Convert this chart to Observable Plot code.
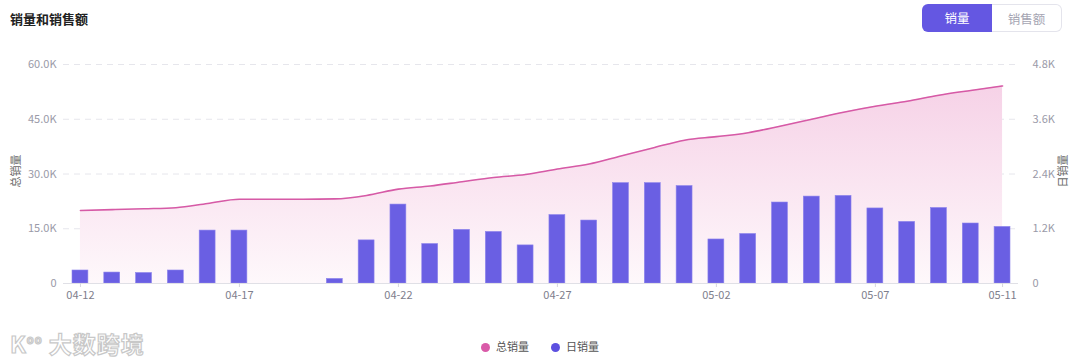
<!DOCTYPE html>
<html><head><meta charset="utf-8">
<script src="https://cdn.jsdelivr.net/npm/d3@7"></script>
<script src="https://cdn.jsdelivr.net/npm/@observablehq/plot@0.6"></script>
<style>
html,body{margin:0;padding:0;background:#fff;font-family:"Noto Sans CJK SC","Noto Sans",sans-serif;}
#wrap{position:relative;width:1080px;height:363px;overflow:hidden;}
#title{position:absolute;left:10px;top:9px;font-size:13px;font-weight:bold;color:#222;}
#btns{position:absolute;left:922px;top:4px;display:flex;font-size:12.5px;}
#btns div{width:70px;height:28px;line-height:28px;text-align:center;box-sizing:border-box;}
#b1{background:#6457e2;color:#fff;border-radius:6px 0 0 6px;}
#b2{border:1px solid #e4e4ec;border-left:none;color:#a5a5b3;border-radius:0 6px 6px 0;}
#chart{position:absolute;left:0;top:40px;}
#legend{position:absolute;top:338px;left:481px;font-size:11px;color:#555;display:flex;gap:22px;}
#legend span.d{display:inline-block;width:9px;height:9px;border-radius:50%;margin-right:6px;vertical-align:-1px;}
#wm{position:absolute;left:10px;top:326px;font-size:23px;font-weight:bold;color:#fff;-webkit-text-stroke:1.2px #c8c8c8;letter-spacing:1px;}
.yl{position:absolute;font-size:11px;color:#666;transform:rotate(-90deg);transform-origin:center;white-space:nowrap;}
</style></head>
<body><div id="wrap">
<div id="title">销量和销售额</div>
<div id="btns"><div id="b1">销量</div><div id="b2">销售额</div></div>
<div id="chart"></div>
<div class="yl" style="left:-2px;top:163px;">总销量</div>
<div class="yl" style="left:1045px;top:163px;">日销量</div>
<div id="legend"><div><span class="d" style="background:#d95aa8"></span>总销量</div><div><span class="d" style="background:#5c50e0"></span>日销量</div></div>
<div id="wm">K<sup style="font-size:11px">oo</sup> 大数跨境</div>
</div>
<script>
const dates = ["04-12","04-13","04-14","04-15","04-16","04-17","04-18","04-19","04-20","04-21",
"04-22","04-23","04-24","04-25","04-26","04-27","04-28","04-29","04-30","05-01",
"05-02","05-03","05-04","05-05","05-06","05-07","05-08","05-09","05-10","05-11"];
const dailySales = [285,240,230,285,1160,1160,0,0,100,945,
1730,865,1175,1130,835,1500,1380,2200,2200,2135,
965,1085,1775,1905,1920,1645,1350,1655,1315,1240];
const totalSales = [20000,20240,20470,20755,21915,23075,23075,23075,23175,24120,
25850,26715,27890,29020,29855,31355,32735,34935,37135,39270,
40235,41320,43095,45000,46920,48565,49915,51570,52885,54125];
const leftTicks = [0,15000,30000,45000,60000];
const xTicks = ["04-12","04-17","04-22","04-27","05-02","05-07","05-11"];
const ratio = 12.5; // right axis 4.8K maps to left axis 60K

const rows = dates.map((d,i)=>({date:d, daily:dailySales[i], dailyScaled:dailySales[i]*ratio, total:totalSales[i]}));
const fmtL = v => v===0 ? "0" : (v/1000).toFixed(1)+"K";
const fmtR = v => v===0 ? "0" : (v/ratio/1000).toFixed(1)+"K";

const plot = Plot.plot({
  width:1080, height:275,
  marginLeft:63, marginRight:62, marginTop:24, marginBottom:32,
  style:{fontFamily:"Noto Sans CJK SC, Noto Sans, sans-serif", fontSize:"11px", color:"#8b8b99", background:"transparent"},
  x:{type:"band", domain:dates, range:[72,1010], paddingInner:0.5, paddingOuter:0, align:0.5, round:false, label:null},
  y:{domain:[0,60000], label:null},
  marks:[
    () => {
      const svg = d3.create("svg:defs");
      const g = svg.append("linearGradient").attr("id","pinkg").attr("x1",0).attr("x2",0).attr("y1",0).attr("y2",1);
      g.append("stop").attr("offset","0%").attr("stop-color","#f6d2e7");
      g.append("stop").attr("offset","100%").attr("stop-color","#fef8fb");
      return svg.node();
    },
    Plot.gridY(leftTicks.filter(t=>t>0), {stroke:"#e6e6ec", strokeOpacity:1, strokeDasharray:"6,5"}),
    Plot.areaY(rows, {x:"date", y:"total", fill:"url(#pinkg)", curve:"monotone-x"}),
    Plot.lineY(rows, {x:"date", y:"total", stroke:"#d65aa6", strokeWidth:1.6, curve:"monotone-x"}),
    Plot.barY(rows, {x:"date", y:"dailyScaled", fill:"#6a5fe3", stroke:"#8d84ec", strokeWidth:0.6}),
    Plot.ruleY([0], {stroke:"#e0e0e6"}),
    Plot.axisX(xTicks, {tickSize:4, stroke:"#d6d6de", tickPadding:4, fontSize:11, fill:"#7e7e8c"}),
    Plot.axisY(leftTicks, {anchor:"left", tickSize:0, tickPadding:7, tickFormat:fmtL, fontSize:11, fill:"#9a9aa8", label:null}),
    Plot.axisY(leftTicks, {anchor:"right", tickSize:0, tickPadding:14, tickFormat:fmtR, fontSize:11, fill:"#9a9aa8", label:null})
  ]
});
document.getElementById("chart").appendChild(plot);
</script>
</body></html>
